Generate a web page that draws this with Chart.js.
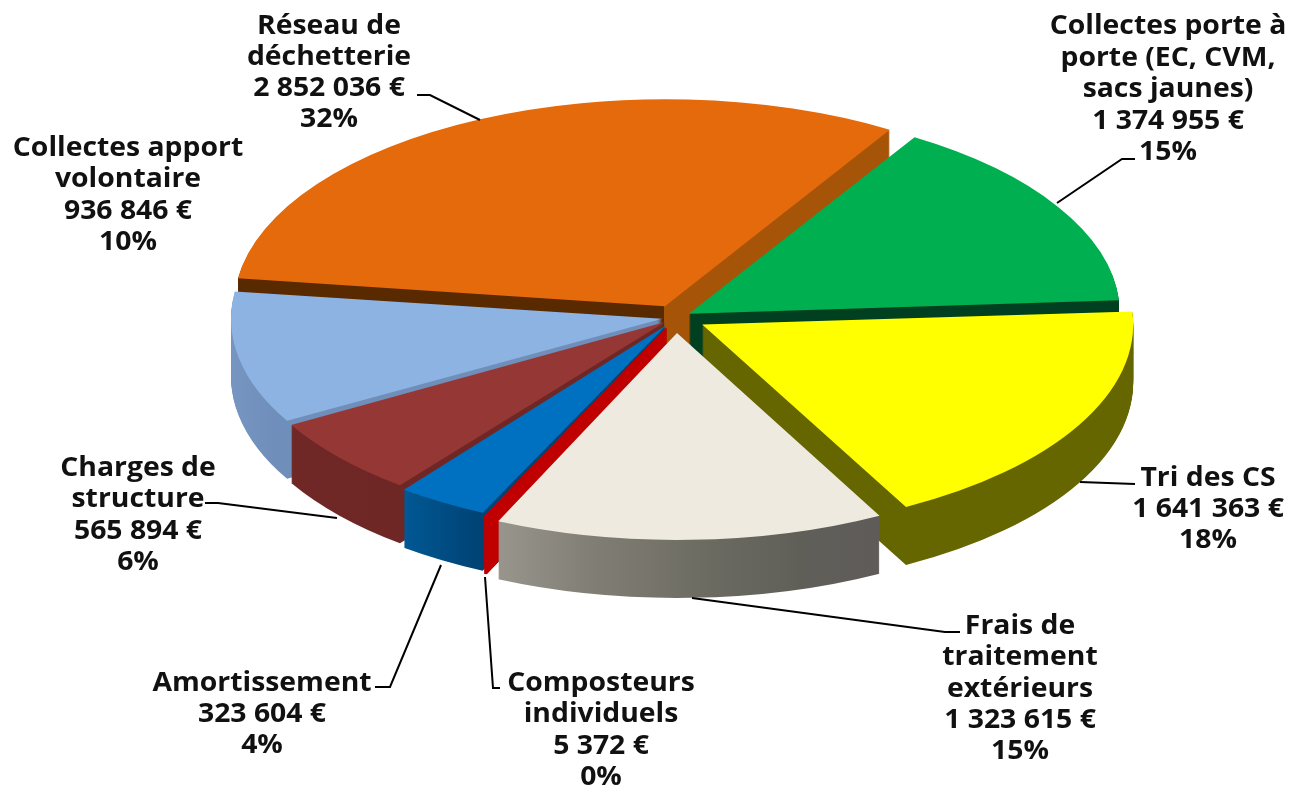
<!DOCTYPE html>
<html lang="fr">
<head>
<meta charset="utf-8">
<title>Répartition des coûts</title>
<script src="https://cdn.jsdelivr.net/npm/chart.js@4/dist/chart.umd.min.js"></script>
<style>
    html, body { margin: 0; background: #fff; }
    canvas { display: block; }
</style>
</head>
<body>
<canvas id="pie" width="1294" height="785"></canvas>
<script>
const categories = [
    "Collectes porte à porte (EC, CVM, sacs jaunes)",
    "Tri des CS",
    "Frais de traitement extérieurs",
    "Composteurs individuels",
    "Amortissement",
    "Charges de structure",
    "Collectes apport volontaire",
    "Réseau de déchetterie"
];
const values = [1374955, 1641363, 1323615, 5372, 323604, 565894, 936846, 2852036];

// how each name wraps on the picture
const wrappedNames = [
    ["Collectes porte à", "porte (EC, CVM,", "sacs jaunes)"],
    ["Tri des CS"],
    ["Frais de", "traitement", "extérieurs"],
    ["Composteurs", "individuels"],
    ["Amortissement"],
    ["Charges de", "structure"],
    ["Collectes apport", "volontaire"],
    ["Réseau de", "déchetterie"]
];

const topColors = ["#00b050", "#ffff00", "#eeeae0", "#c00000", "#0070c0", "#953735", "#8db3e2", "#e56a0c"];
// wall colours, [position 0..1 across the canvas, colour]
// (stops move along with the slice's offset when it is drawn)
const wallColors = [
    [[0, "#003f1f"], [1, "#003f1f"]],
    [[0, "#666600"], [1, "#666600"]],
    [[0.384, "#98958c"], [0.46, "#807d74"], [0.55, "#6b6a61"], [0.62, "#5f5f58"], [0.68, "#5f5b5a"]],
    [[0, "#c00000"], [1, "#c00000"]],
    [[0.31, "#005c9c"], [0.345, "#004f86"], [0.375, "#004476"]],
    [[0.22, "#702826"], [0.31, "#6e2725"]],
    [[0.18, "#7897c2"], [0.225, "#6f8fba"]],
    [[0, "#592900"], [0.522, "#592900"], [0.5221, "#a65508"], [1, "#a65508"]]
];
const explode = [48, 95, 102, 75, 61, 46, 45, 82];
// walls are painted back to front, slice by slice
const wallOrder = [7, 0, 1, 6, 5, 4, 3, 2];

// the pie on the page: centre, half axes, thickness
const pieX = 676, pieY = 317.5, pieRx = 431, pieRy = 207, pieDepth = 58;
const pieRotation = 31.5;

const labelFont = 'bold 26px "Open Sans"';
const labelStretch = 1.09;
// centre x, y of first line, line gap
const labelSpots = [
    [1168, 27, 31.5],
    [1208, 478.5, 31],
    [1020, 626.5, 31.3],
    [601, 683.5, 31.5],
    [262, 683.5, 31],
    [138, 468.5, 31.3],
    [128, 148.5, 31.3],
    [329, 26.5, 31]
];
const leaderLines = [
    [[1135, 159], [1122, 159], [1057, 203]],
    [[1135, 484], [1080, 482]],
    [[960, 632], [945, 632], [692, 598]],
    [[500, 688], [493, 688], [485, 577]],
    [[375, 687], [390, 687], [441, 565]],
    [[205, 503], [218, 503], [337, 518]],
    [],
    [[417, 95], [430, 95], [480, 120]]
];

const total = values.reduce((a, b) => a + b, 0);
const euro = (v) => String(v).replace(/\B(?=(\d{3})+$)/g, " ") + " €";

// chart.js shrinks an exploded hairline slice to nothing, so those get no
// library offset and are pushed out by hand when their wall is drawn
const isHairline = (i) => values[i] / total < 0.005;

const pie3d = {
    id: "pie3d",
    afterDatasetsUpdate(chart) {
        // arc.draw makes narrow exploded slices longer, take that back
        const arcs = chart.getDatasetMeta(0).data;
        arcs.forEach((arc) => {
            const fix = 1 - Math.sin(Math.min(Math.PI, arc.circumference));
            arc.outerRadius -= arc.options.offset / 4 * fix;
        });
    },
    beforeDatasetsDraw(chart) {
        const ctx = chart.ctx;
        const arcs = chart.getDatasetMeta(0).data;
        const R = Math.max(...arcs.map((a) => a.outerRadius));
        const sx = pieRx / R;
        const sy = pieRy / R;
        const toPage = () => {
            ctx.translate(pieX, pieY);
            ctx.scale(sx, sy);
            ctx.translate(-arcs[0].x, -arcs[0].y);
        };
        const fills = wallColors.map((stops) => {
            // gradient runs in chart units, the transform brings it to the page
            const x0 = arcs[0].x + (0 - pieX) / sx;
            const x1 = arcs[0].x + (1294 - pieX) / sx;
            const g = ctx.createLinearGradient(x0, 0, x1, 0);
            stops.forEach((s) => g.addColorStop(s[0], s[1]));
            return g;
        });

        // stack each slice from the bottom layer to just under the top
        wallOrder.forEach((i) => {
            const arc = arcs[i];
            const options = arc.options;
            const shift = (explode[i] - options.offset) / 4;
            const mid = (arc.startAngle + arc.endAngle) / 2;
            const hairline = isHairline(i);
            const step = hairline ? 0.25 : 1;
            arc.options = Object.assign({}, options, {
                backgroundColor: fills[i],
                borderColor: topColors[i],
                borderWidth: hairline ? 1 : 0
            });
            for (let z = pieDepth; z > 0; z -= step) {
                ctx.save();
                ctx.translate(0, z);
                toPage();
                ctx.translate(Math.cos(mid) * shift, Math.sin(mid) * shift);
                arc.draw(ctx);
                ctx.restore();
            }
            arc.options = options;
        });

        // the library draws the top faces under this transform
        ctx.save();
        toPage();
    },
    afterDatasetsDraw(chart) {
        const ctx = chart.ctx;
        ctx.restore();

        ctx.strokeStyle = "#000";
        ctx.lineWidth = 2;
        leaderLines.forEach((line) => {
            ctx.beginPath();
            line.forEach((p, i) => (i ? ctx.lineTo(p[0], p[1]) : ctx.moveTo(p[0], p[1])));
            ctx.stroke();
        });

        ctx.fillStyle = "#111";
        ctx.font = labelFont;
        ctx.textAlign = "center";
        ctx.textBaseline = "middle";
        values.forEach((v, i) => {
            const lines = [...wrappedNames[i], euro(v), Math.round(v / total * 100) + "%"];
            const spot = labelSpots[i];
            lines.forEach((text, n) => {
                ctx.save();
                ctx.translate(spot[0], spot[1] + n * spot[2]);
                ctx.scale(labelStretch, 1);
                ctx.fillText(text, 0, 0);
                ctx.restore();
            });
        });
    }
};

new Chart(document.getElementById("pie").getContext("2d"), {
    type: "pie",
    data: {
        labels: categories,
        datasets: [{
            data: values,
            backgroundColor: topColors,
            borderWidth: 0,
            offset: explode.map((o, i) => (isHairline(i) ? 0 : o)),
            clip: false
        }]
    },
    options: {
        responsive: false,
        animation: false,
        events: [],
        rotation: pieRotation,
        layout: { padding: 0 },
        plugins: {
            legend: { display: false },
            tooltip: { enabled: false }
        }
    },
    plugins: [pie3d]
});
</script>
</body>
</html>
